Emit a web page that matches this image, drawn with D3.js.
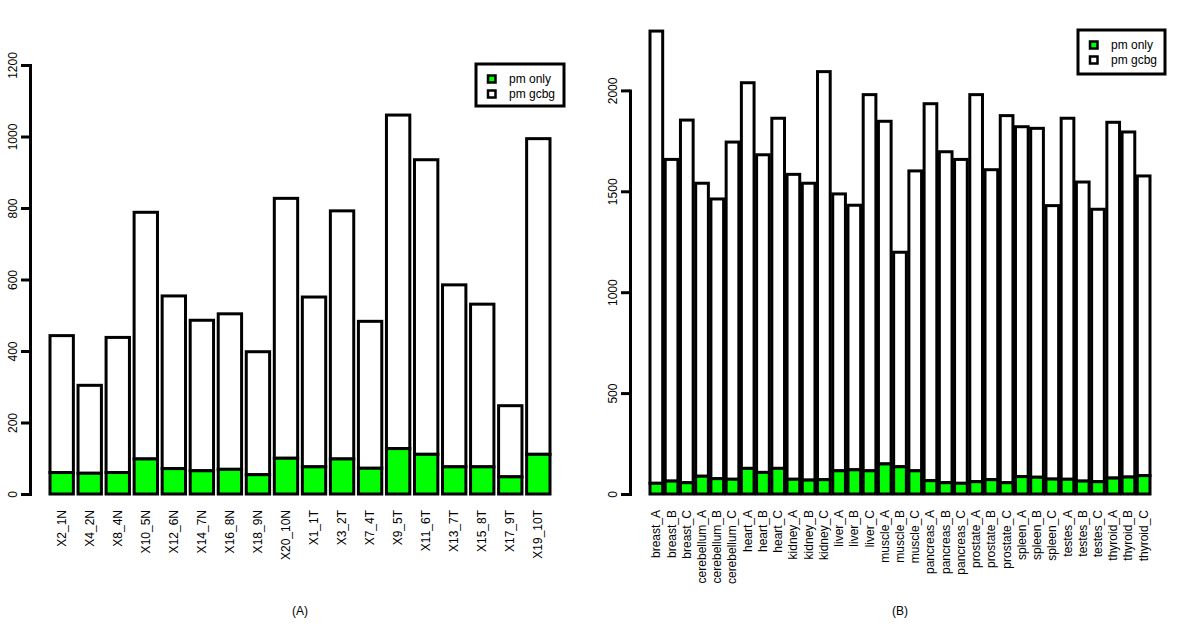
<!DOCTYPE html>
<html>
<head>
<meta charset="utf-8">
<script src="https://cdn.jsdelivr.net/npm/d3@7"></script>
<style>
  html, body { margin: 0; padding: 0; background: #fff; }
  svg { display: block; font-family: "Liberation Sans", Arial, Helvetica, sans-serif; }
</style>
</head>
<body>
<svg id="chart" width="1200" height="627"></svg>
<script>
// ---------- data ----------
const categoriesA = ["X2_1N","X4_2N","X8_4N","X10_5N","X12_6N","X14_7N","X16_8N","X18_9N","X20_10N",
                     "X1_1T","X3_2T","X7_4T","X9_5T","X11_6T","X13_7T","X15_8T","X17_9T","X19_10T"];
const pmOnlyA = [60,58,60,98,71,65,69,54,100,76,98,72,127,111,76,76,48,111];
const pmGcbgA = [383,246,378,690,483,421,435,344,727,475,694,411,933,824,509,455,199,883];
const ticksA = [0,200,400,600,800,1000,1200];

const categoriesB = ["breast_A","breast_B","breast_C","cerebellum_A","cerebellum_B","cerebellum_C",
                     "heart_A","heart_B","heart_C","kidney_A","kidney_B","kidney_C",
                     "liver_A","liver_B","liver_C","muscle_A","muscle_B","muscle_C",
                     "pancreas_A","pancreas_B","pancreas_C","prostate_A","prostate_B","prostate_C",
                     "spleen_A","spleen_B","spleen_C","testes_A","testes_B","testes_C",
                     "thyroid_A","thyroid_B","thyroid_C"];
const pmOnlyB = [53,64,56,88,76,73,127,107,127,73,69,71,115,120,115,149,135,115,66,56,53,61,71,56,86,83,74,73,64,61,79,84,91];
const pmGcbgB = [2241,1594,1797,1452,1386,1671,1911,1574,1735,1511,1471,2022,1372,1311,1864,1698,1063,1486,
                 1868,1640,1605,1918,1536,1819,1734,1729,1355,1789,1482,1350,1763,1710,1485];
const ticksB = [0,500,1000,1500,2000];

const seriesNames = ["pm only", "pm gcbg"];
const seriesColors = ["#00ff00", "#ffffff"];
const captions = ["(A)", "(B)"];

// ---------- drawing ----------
const svg = d3.select("#chart");
const FONT = 12;
const STROKE = 3;

function panel(opts) {
  const { left, width, yTop, yTopValue, yBottom, cats, s1, s2, ticks, legendBox, caption } = opts;
  const g = svg.append("g");
  const inset = width / 27; // R barplot 4% axis expansion
  const x = d3.scaleBand().domain(cats)
      .range([left + inset, left + width - inset])
      .paddingInner(1 / 6).paddingOuter(0);
  const y = d3.scaleLinear().domain([0, yTopValue]).range([yBottom, yTop]);

  const rows = cats.map((c, i) => ({ c, a: s1[i], b: s2[i] }));

  // bars: lower segment (pm only), upper segment (pm gcbg)
  g.selectAll("rect.top").data(rows).join("rect")
    .attr("x", d => x(d.c)).attr("width", x.bandwidth())
    .attr("y", d => y(d.a + d.b)).attr("height", d => y(d.a) - y(d.a + d.b))
    .attr("fill", seriesColors[1]).attr("stroke", "#000").attr("stroke-width", STROKE);
  g.selectAll("rect.bot").data(rows).join("rect")
    .attr("x", d => x(d.c)).attr("width", x.bandwidth())
    .attr("y", d => y(d.a)).attr("height", d => y(0) - y(d.a))
    .attr("fill", seriesColors[0]).attr("stroke", "#000").attr("stroke-width", STROKE);

  // y axis
  const ya = g.append("g").attr("transform", `translate(${left},0)`)
    .call(d3.axisLeft(y).tickValues(ticks).tickSize(9).tickSizeOuter(0).tickFormat(d3.format("d")));
  ya.select(".domain").attr("stroke", "#000").attr("stroke-width", STROKE).attr("stroke-linecap", "square");
  ya.selectAll(".tick line").attr("stroke", "#000").attr("stroke-width", STROKE);
  ya.selectAll(".tick text")
    .attr("x", 0).attr("y", -17.5).attr("dy", null)
    .attr("transform", "rotate(-90)")
    .attr("text-anchor", "middle").attr("dominant-baseline", "central")
    .attr("font-size", FONT).attr("font-family", "Liberation Sans, Arial, sans-serif").attr("fill", "#000");

  // x category labels
  const xa = g.append("g").attr("transform", `translate(0,${yBottom})`)
    .call(d3.axisBottom(x).tickSize(0));
  xa.select(".domain").remove();
  xa.selectAll(".tick text")
    .attr("x", -16).attr("y", 0).attr("dy", null)
    .attr("transform", "rotate(-90)")
    .attr("text-anchor", "end").attr("dominant-baseline", "central")
    .attr("font-size", FONT).attr("font-family", "Liberation Sans, Arial, sans-serif").attr("fill", "#000");

  // caption
  g.append("text").attr("x", left + width / 2).attr("y", 611)
    .attr("text-anchor", "middle").attr("dominant-baseline", "central")
    .attr("font-size", FONT).text(caption);

  // legend
  const lg = g.append("g").attr("transform", `translate(${legendBox.x},${legendBox.y})`);
  lg.append("rect").attr("width", legendBox.w).attr("height", legendBox.h)
    .attr("fill", "#fff").attr("stroke", "#000").attr("stroke-width", STROKE);
  seriesNames.forEach((name, i) => {
    const cy = 15 + i * 15;
    lg.append("rect").attr("x", 12).attr("y", cy - 3.5).attr("width", 7.5).attr("height", 7)
      .attr("fill", seriesColors[i]).attr("stroke", "#000").attr("stroke-width", 2.5);
    lg.append("text").attr("x", 33).attr("y", cy).attr("dominant-baseline", "central")
      .attr("font-size", FONT).text(name);
  });
}

panel({ left: 30, width: 540, yTop: 65, yTopValue: 1200, yBottom: 494,
        cats: categoriesA, s1: pmOnlyA, s2: pmGcbgA, ticks: ticksA,
        legendBox: { x: 476, y: 64, w: 88, h: 42 }, caption: captions[0] });
panel({ left: 630, width: 540, yTop: 90.4, yTopValue: 2000, yBottom: 494,
        cats: categoriesB, s1: pmOnlyB, s2: pmGcbgB, ticks: ticksB,
        legendBox: { x: 1078, y: 30, w: 87, h: 44 }, caption: captions[1] });
</script>
</body>
</html>
